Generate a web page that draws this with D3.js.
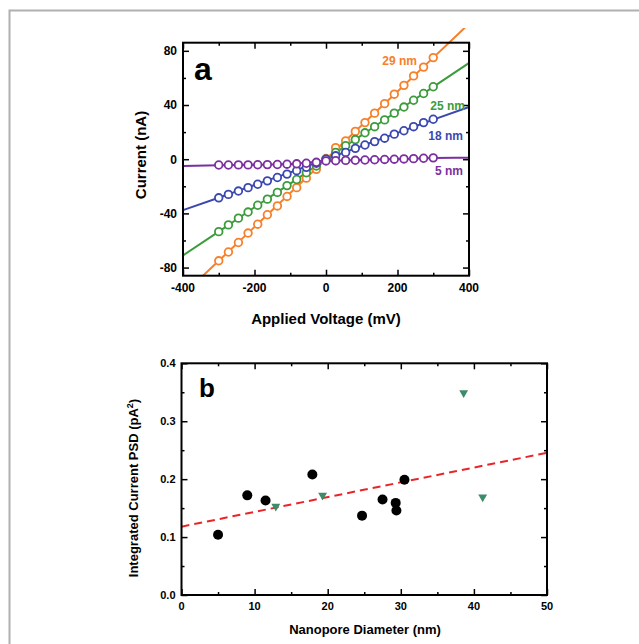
<!DOCTYPE html>
<html lang="en">
<head>
<meta charset="utf-8">
<title>IV and noise</title>
<script src="https://d3js.org/d3.v7.min.js"></script>
<style>
  body { margin: 0; background: #fff; }
  text { font-family: "Liberation Sans", Arial, sans-serif; font-weight: bold; }
</style>
</head>
<body>
<script>
// ---- panel a data (current vs voltage) ----
var voltages = [-300, -273, -245, -218, -191, -164, -136, -109, -82, -55, -27, 0, 27, 55, 82, 109, 136, 164, 191, 218, 245, 273, 300];
var orange29 = [-75, -68.5, -61.5, -54.5, -48, -41, -34.5, -27.5, -21, -14, -7.5, 0.5, 8.5, 13.5, 20.5, 27, 34, 41, 48, 54.5, 61.5, 68, 75];
var green25  = [-53.5, -48.5, -43.5, -39, -34, -29.5, -24.5, -19.5, -15, -10, -5, 0, 5, 10, 14.5, 19.5, 24, 29, 34, 38.5, 43.5, 48.5, 53.5];
var blue18   = [-28.5, -26, -23.5, -21, -18.5, -16, -13.5, -11, -8.5, -6, -3, 0, 2.5, 5, 8, 10.5, 13, 15.5, 18.5, 21, 24, 27, 29.5];
var purple5  = [-4.3, -4.3, -4.2, -4.2, -4.1, -4, -3.9, -3.7, -3.4, -3, -2.3, -1.3, -1.1, -0.9, -0.8, -0.6, -0.4, -0.2, 0, 0.2, 0.4, 0.7, 1.0];

// fitted curves
var fitVolt = [-400, -300, -200, -100, 0, 100, 200, 300, 400];
var fitOrange = [-100, -75, -50, -25, 0, 25, 50, 75, 100];
var fitGreen  = [-71, -53.5, -35.5, -18, 0, 17.8, 35.6, 53.4, 71];
var fitBlue   = [-37.6, -28.5, -19, -9.7, 0, 9.7, 19.4, 29.2, 38.5];
var fitPurple = [-5, -4.4, -4.1, -3.6, -1.3, -0.6, 0.1, 0.9, 1.1];

var seriesNames  = ["29 nm", "25 nm", "18 nm", "5 nm"];
var seriesColors = ["#f7802a", "#3c9c3c", "#3b48b0", "#7b2fa0"];

// ---- panel b data (PSD vs diameter) ----
var diamBlack = [5, 9, 11.5, 17.9, 24.7, 27.5, 29.3, 29.4, 30.5];
var psdBlack  = [0.104, 0.172, 0.163, 0.208, 0.137, 0.165, 0.159, 0.146, 0.199];
var diamGreen = [12.9, 19.3, 38.6, 41.2];
var psdGreen  = [0.153, 0.172, 0.349, 0.169];
var fitDiam = [0, 50];
var fitPsd  = [0.118, 0.2455];

var width = 639, height = 644;

var svg = d3.select("body").append("svg")
  .attr("width", width)
  .attr("height", height);

// outer frame (left and top only)
svg.append("path")
  .attr("d", "M9.5," + height + "V10.5H" + width)
  .attr("fill", "none")
  .attr("stroke", "#b0b0b0")
  .attr("stroke-width", 2);

// ================= panel a =================
var ax = d3.scaleLinear().domain([-400, 400]).range([183, 469]);
var ay = d3.scaleLinear().domain([-86, 86]).range([275.7, 42.7]);

var ga = svg.append("g");

svg.append("clipPath").attr("id", "clipA")
  .append("rect")
  .attr("x", ax(-400)).attr("y", 28)
  .attr("width", ax(400) - ax(-400)).attr("height", ay(-86) - 28);

var fits = [fitOrange, fitGreen, fitBlue, fitPurple];
var pts  = [orange29, green25, blue18, purple5];

var line = d3.line().curve(d3.curveMonotoneX);

fits.forEach(function(f, i) {
  ga.append("path")
    .attr("clip-path", "url(#clipA)")
    .attr("d", line(fitVolt.map(function(v, j) { return [ax(v), ay(f[j])]; })))
    .attr("fill", "none")
    .attr("stroke", seriesColors[i])
    .attr("stroke-width", 2);
});

pts.forEach(function(s, i) {
  ga.append("g").selectAll("circle")
    .data(voltages)
    .enter().append("circle")
      .attr("cx", function(d) { return ax(d); })
      .attr("cy", function(d, j) { return ay(s[j]); })
      .attr("r", 3.8)
      .attr("fill", "#fff")
      .attr("stroke", seriesColors[i])
      .attr("stroke-width", 1.8);
});

// axes, ticks inside on all four sides
function drawAxes(g, x, y, xMajor, xMinor, yMajor, yMinor, xFmt, yFmt, fs) {
  var x0 = x.range()[0], x1 = x.range()[1], y0 = y.range()[0], y1 = y.range()[1];
  g.append("g").attr("transform", "translate(0," + y0 + ")")
    .call(d3.axisTop(x).tickValues(xMinor).tickSize(3).tickFormat(""));
  g.append("g").attr("transform", "translate(0," + y0 + ")")
    .call(d3.axisTop(x).tickValues(xMajor).tickSize(6).tickFormat(""));
  g.append("g").attr("transform", "translate(0," + y1 + ")")
    .call(d3.axisBottom(x).tickValues(xMinor).tickSize(3).tickFormat(""));
  g.append("g").attr("transform", "translate(0," + y1 + ")")
    .call(d3.axisBottom(x).tickValues(xMajor).tickSize(6).tickFormat(""));
  g.append("g").attr("transform", "translate(" + x0 + ",0)")
    .call(d3.axisRight(y).tickValues(yMinor).tickSize(3).tickFormat(""));
  g.append("g").attr("transform", "translate(" + x0 + ",0)")
    .call(d3.axisRight(y).tickValues(yMajor).tickSize(6).tickFormat(""));
  g.append("g").attr("transform", "translate(" + x1 + ",0)")
    .call(d3.axisLeft(y).tickValues(yMinor).tickSize(3).tickFormat(""));
  g.append("g").attr("transform", "translate(" + x1 + ",0)")
    .call(d3.axisLeft(y).tickValues(yMajor).tickSize(6).tickFormat(""));
  g.selectAll(".domain").remove();
  g.selectAll(".tick line").attr("stroke", "#000").attr("stroke-width", 1.5);
  g.append("rect")
    .attr("x", x0).attr("y", y1).attr("width", x1 - x0).attr("height", y0 - y1)
    .attr("fill", "none").attr("stroke", "#000").attr("stroke-width", 2);
  g.append("g").selectAll("text").data(xMajor).enter().append("text")
    .attr("x", function(d) { return x(d); })
    .attr("y", y0 + fs + 4)
    .attr("text-anchor", "middle")
    .attr("font-size", fs)
    .text(xFmt);
  g.append("g").selectAll("text").data(yMajor).enter().append("text")
    .attr("x", x0 - 6)
    .attr("y", function(d) { return y(d) + fs * 0.36; })
    .attr("text-anchor", "end")
    .attr("font-size", fs)
    .text(yFmt);
}

drawAxes(ga, ax, ay, [-400, -200, 0, 200, 400], [-300, -100, 100, 300],
  [-80, -40, 0, 40, 80], [-60, -20, 20, 60],
  function(d) { return d; }, function(d) { return d; }, 12);

// series labels
var labelPos = [[417, 65], [465, 110], [463, 140], [463, 175]];
seriesNames.forEach(function(n, i) {
  ga.append("text")
    .attr("x", labelPos[i][0]).attr("y", labelPos[i][1])
    .attr("text-anchor", "end")
    .attr("font-size", 12)
    .attr("fill", seriesColors[i])
    .text(n);
});

ga.append("text").attr("x", 194).attr("y", 80).attr("font-size", 32).text("a");
ga.append("text").attr("x", 326).attr("y", 324).attr("text-anchor", "middle")
  .attr("font-size", 15).text("Applied Voltage (mV)");
ga.append("text").attr("transform", "translate(146,155) rotate(-90)")
  .attr("text-anchor", "middle").attr("font-size", 15).text("Current (nA)");

// ================= panel b =================
var bx = d3.scaleLinear().domain([0, 50]).range([181.5, 547]);
var by = d3.scaleLinear().domain([0, 0.4]).range([595, 363.3]);

var gb = svg.append("g");

gb.append("path")
  .attr("d", d3.line()(fitDiam.map(function(d, i) { return [bx(d), by(fitPsd[i])]; })))
  .attr("fill", "none")
  .attr("stroke", "#e8262a")
  .attr("stroke-width", 2)
  .attr("stroke-dasharray", "8,5");

gb.append("g").selectAll("circle")
  .data(diamBlack)
  .enter().append("circle")
    .attr("cx", function(d) { return bx(d); })
    .attr("cy", function(d, i) { return by(psdBlack[i]); })
    .attr("r", 5)
    .attr("fill", "#000");

gb.append("g").selectAll("path")
  .data(diamGreen)
  .enter().append("path")
    .attr("transform", function(d, i) { return "translate(" + bx(d) + "," + by(psdGreen[i]) + ") rotate(180)"; })
    .attr("d", d3.symbol().type(d3.symbolTriangle).size(34))
    .attr("fill", "#3d8b6a");

drawAxes(gb, bx, by, [0, 10, 20, 30, 40, 50], [5, 15, 25, 35, 45],
  [0, 0.1, 0.2, 0.3, 0.4], [0.05, 0.15, 0.25, 0.35],
  function(d) { return d; }, d3.format(".1f"), 11);

gb.append("text").attr("x", 199).attr("y", 397).attr("font-size", 26).text("b");
gb.append("text").attr("x", 365).attr("y", 634).attr("text-anchor", "middle")
  .attr("font-size", 13).text("Nanopore Diameter (nm)");
var yt = gb.append("text").attr("transform", "translate(138,488) rotate(-90)")
  .attr("text-anchor", "middle").attr("font-size", 13);
yt.append("tspan").text("Integrated Current PSD (pA");
yt.append("tspan").attr("dy", -5).attr("font-size", 9).text("2");
yt.append("tspan").attr("dy", 5).text(")");
</script>
</body>
</html>
